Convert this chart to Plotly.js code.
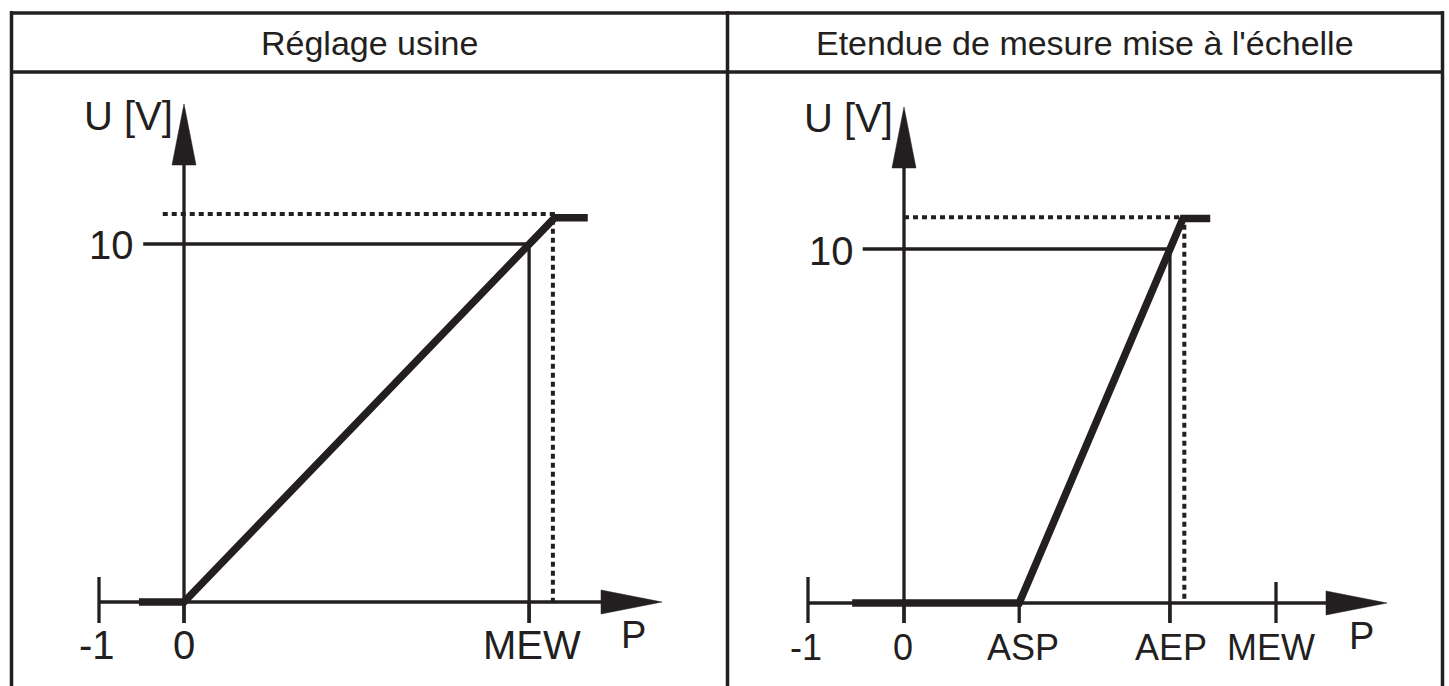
<!DOCTYPE html>
<html>
<head>
<meta charset="utf-8">
<script src="https://cdn.plot.ly/plotly-3.0.1.min.js"></script>
<style>html,body{margin:0;padding:0;background:#fff;}#chart{width:1449px;height:686px;}</style>
</head>
<body>
<div id="chart"></div>
<script>
// ---------- DATA ----------
const panelTitles = ['Réglage usine', "Etendue de mesure mise à l'échelle"];
const axisTitleU = 'U [V]';
const axisTitleP = 'P';
const levelLabel = '10';
const levelU = 10;

// Left panel: factory setting
const leftTickP = [-1, 0, 4.06];
const leftTickText = ['-1', '0', 'MEW'];
const leftCurveP = [-0.53, 0, 4.36, 4.75];
const leftCurveU = [0, 0, 10.73, 10.73];
const leftRefP = [-0.48, 4.06, 4.06];      // 10 V reference and MEW drop line
const leftRefU = [10, 10, -0.59];
const leftSatP = [-0.25, 4.34, 4.34];      // dotted saturation lines
const leftSatU = [10.84, 10.84, 0];

// Right panel: scaled measuring range
const rightTickP = [-1, 0, 1.2, 2.77, 3.875];
const rightTickText = ['-1', '0', 'ASP', 'AEP', 'MEW'];
const rightCurveP = [-0.54, 1.2, 2.906, 3.19];
const rightCurveU = [0, 0, 10.86, 10.86];
const rightRefP = [-0.43, 2.77, 2.77];
const rightRefU = [10, 10, -0.565];
const rightSatP = [0, 2.92, 2.92];
const rightSatU = [10.9, 10.9, 0];

// ---------- LAYOUT GEOMETRY ----------
const W = 1449, H = 686;
const INK = '#231f20';
const FONT = 'Liberation Sans, Arial, Helvetica, sans-serif';

const panels = [
  {xa: 'x', ya: 'y', px: [13, 726], py: [72, 686], origin: [184, 602], scale: [85, 35.8],
   tickP: leftTickP, tickText: leftTickText, curveP: leftCurveP, curveU: leftCurveU,
   refP: leftRefP, refU: leftRefU, satP: leftSatP, satU: leftSatU,
   axisTipPx: 662, yTipPx: 104, labelSize: 40, labelShift: [-2, 0, 3],
   tickUp: [25, 0, 0], tickDown: 21, labelDy: 43, uTitleDy: 116, levelDy: -1, pTitle: [633, 635]},
  {xa: 'x2', ya: 'y2', px: [728, 1442], py: [72, 686], origin: [904, 603], scale: [96, 35.4],
   tickP: rightTickP, tickText: rightTickText, curveP: rightCurveP, curveU: rightCurveU,
   refP: rightRefP, refU: rightRefU, satP: rightSatP, satU: rightSatU,
   axisTipPx: 1387, yTipPx: 107, labelSize: 36, labelShift: [-2, -1, 4, 1, -5],
   tickUp: [26, 0, 0, 0, 21], tickDown: 20, labelDy: 44, uTitleDy: 118, levelDy: -2, pTitle: [1361, 636]}
];

const traces = [];
const shapes = [];
const annotations = [];

function lineTrace(xs, ys, p, width, dash) {
  traces.push({
    type: 'scatter', mode: 'lines', x: xs, y: ys, xaxis: p.xa, yaxis: p.ya,
    line: {color: INK, width: width, dash: dash || 'solid'},
    hoverinfo: 'skip', showlegend: false, cliponaxis: false
  });
}
function triTrace(xs, ys, p) {
  traces.push({
    type: 'scatter', mode: 'lines', x: xs, y: ys, xaxis: p.xa, yaxis: p.ya,
    fill: 'toself', fillcolor: INK, line: {color: INK, width: 0.5},
    hoverinfo: 'skip', showlegend: false, cliponaxis: false
  });
}

const layout = {
  width: W, height: H, margin: {l: 0, r: 0, t: 0, b: 0},
  paper_bgcolor: '#ffffff', plot_bgcolor: 'rgba(0,0,0,0)',
  showlegend: false, shapes: shapes, annotations: annotations
};

panels.forEach((p, i) => {
  const ux = p.scale[0], uy = p.scale[1];
  const xRange = [(p.px[0] - p.origin[0]) / ux, (p.px[1] - p.origin[0]) / ux];
  const yRange = [(p.origin[1] - p.py[1]) / uy, (p.origin[1] - p.py[0]) / uy];
  const sfx = i === 0 ? '' : '2';
  layout['xaxis' + sfx] = {domain: [p.px[0] / W, p.px[1] / W], range: xRange, visible: false,
    fixedrange: true, anchor: 'y' + sfx};
  layout['yaxis' + sfx] = {domain: [1 - p.py[1] / H, 1 - p.py[0] / H], range: yRange, visible: false,
    fixedrange: true, anchor: 'x' + sfx};

  const dx = px => px / ux, dy = px => px / uy;
  const downU = -dy(p.tickDown);
  const tipP = (p.axisTipPx - p.origin[0]) / ux;
  const tipU = (p.origin[1] - p.yTipPx) / uy;
  const arrowLen = 61, arrowHalf = 12;

  // P axis and arrow
  lineTrace([p.tickP[0], tipP - dx(arrowLen)], [0, 0], p, 3.3);
  triTrace([tipP - dx(arrowLen), tipP, tipP - dx(arrowLen), tipP - dx(arrowLen)],
           [dy(arrowHalf), 0, -dy(arrowHalf), dy(arrowHalf)], p);
  // U axis and arrow
  lineTrace([0, 0], [downU, tipU - dy(arrowLen)], p, 3.3);
  triTrace([-dx(arrowHalf), 0, dx(arrowHalf), -dx(arrowHalf)],
           [tipU - dy(arrowLen), tipU, tipU - dy(arrowLen), tipU - dy(arrowLen)], p);

  // ticks
  p.tickP.forEach((v, k) => {
    lineTrace([v, v], [dy(p.tickUp[k]), downU], p, 3.3);
    annotations.push({
      x: v, y: 0, xref: p.xa, yref: p.ya, text: p.tickText[k], showarrow: false,
      xanchor: 'center', yanchor: 'middle', xshift: p.labelShift[k], yshift: -p.labelDy,
      font: {family: FONT, size: p.labelSize, color: INK}
    });
  });

  // reference lines
  lineTrace(p.refP, p.refU, p, 3.3);
  lineTrace(p.satP, p.satU, p, 4, '5px,4px');
  // characteristic curve
  lineTrace(p.curveP, p.curveU, p, 7.5);

  // U axis title
  annotations.push({
    x: 0, y: tipU, xref: p.xa, yref: p.ya, text: axisTitleU, showarrow: false,
    xanchor: 'right', yanchor: 'middle', xshift: -9, yshift: -(p.uTitleDy - p.yTipPx),
    font: {family: FONT, size: 40, color: INK}
  });
  // level label
  annotations.push({
    x: p.refP[0], y: levelU, xref: p.xa, yref: p.ya, text: levelLabel, showarrow: false,
    xanchor: 'right', yanchor: 'middle', xshift: -7, yshift: p.levelDy,
    font: {family: FONT, size: 40, color: INK}
  });
  // P axis title
  annotations.push({
    x: p.pTitle[0] / W, y: 1 - p.pTitle[1] / H, xref: 'paper', yref: 'paper', text: axisTitleP,
    showarrow: false, xanchor: 'center', yanchor: 'middle',
    font: {family: FONT, size: 38, color: INK}
  });
});

// ---------- FRAME ----------
const frameW = 3.5;
function pline(x0, y0, x1, y1) {
  shapes.push({type: 'line', xref: 'paper', yref: 'paper',
    x0: x0 / W, y0: 1 - y0 / H, x1: x1 / W, y1: 1 - y1 / H,
    line: {color: INK, width: frameW}});
}
pline(10, 13, 1444, 13);
pline(11.5, 11, 11.5, 686);
pline(10, 72, 1444, 72);
pline(727.5, 11, 727.5, 686);
pline(1442.5, 11, 1442.5, 686);

// headers
const headerCenters = [369.5, 1084.5];
panelTitles.forEach((t, i) => {
  annotations.push({
    x: headerCenters[i] / W, y: 1 - 43 / H, xref: 'paper', yref: 'paper', text: t,
    showarrow: false, xanchor: 'center', yanchor: 'middle',
    font: {family: FONT, size: 34, color: INK}
  });
});

Plotly.newPlot('chart', traces, layout, {displayModeBar: false, staticPlot: true});
</script>
</body>
</html>
